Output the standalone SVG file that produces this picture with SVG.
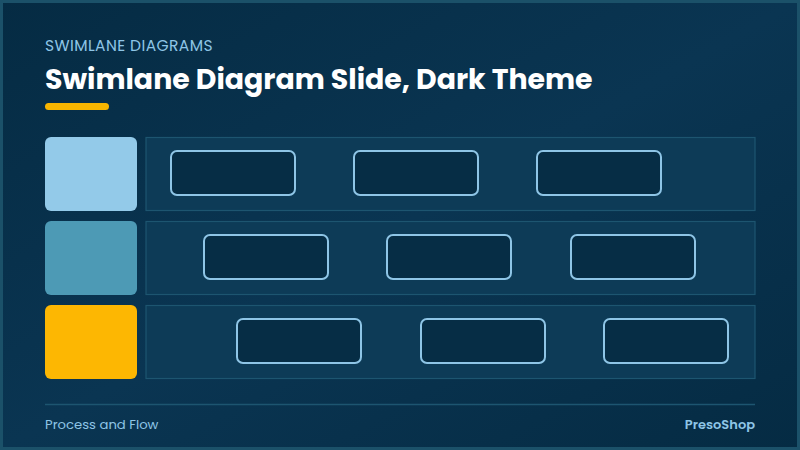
<svg xmlns="http://www.w3.org/2000/svg" width="800" height="450" viewBox="0 0 800 450">
  <defs>
    <linearGradient id="bg" x1="0" y1="0" x2="1" y2="1">
      <stop offset="0" stop-color="#052b43"/>
      <stop offset="0.5" stop-color="#0a3552"/>
      <stop offset="1" stop-color="#052b43"/>
    </linearGradient>
    <style>
      .eyebrow{font-family:"Poppins","Inter","Liberation Sans",sans-serif;font-size:15.5px;letter-spacing:0.4px;fill:#8ec5e6;}
      .title{font-family:"Poppins","Inter","Liberation Sans",sans-serif;font-size:28.4px;font-weight:700;fill:#ffffff;}
      .foot{font-family:"Poppins","Inter","Liberation Sans",sans-serif;font-size:13.2px;fill:#8ec5e6;}
      .brand{font-family:"Poppins","Inter","Liberation Sans",sans-serif;font-size:13px;font-weight:600;fill:#8ec5e6;}
      .lane{fill:#0d3b57;stroke:#1d5570;stroke-width:1.2;}
      .step{fill:#062d45;stroke:#8ec5e6;stroke-width:2;}
    </style>
  </defs>
  <rect x="0" y="0" width="800" height="450" fill="url(#bg)"/>
  <rect x="1.5" y="1.5" width="797" height="447" fill="none" stroke="#1b5169" stroke-width="3"/>

  <g id="header">
    <text class="eyebrow" x="45" y="51">SWIMLANE DIAGRAMS</text>
    <text class="title" x="45" y="89">Swimlane Diagram Slide, Dark Theme</text>
    <rect x="45" y="103" width="64" height="7" rx="3.5" fill="#f7b500"/>
  </g>

  <g id="lane1">
    <rect x="45" y="137" width="92" height="74" rx="6" fill="#93cae9"/>
    <rect class="lane" x="146" y="137.5" width="609" height="73"/>
  </g>
  <g id="lane2">
    <rect x="45" y="221" width="92" height="74" rx="6" fill="#4d9ab5"/>
    <rect class="lane" x="146" y="221.5" width="609" height="73"/>
  </g>
  <g id="lane3">
    <rect x="45" y="305" width="92" height="74" rx="6" fill="#fdb702"/>
    <rect class="lane" x="146" y="305.5" width="609" height="73"/>
  </g>

  <g id="step1-1"><rect class="step" x="171" y="151" width="124" height="44" rx="6"/></g>
  <g id="step1-2"><rect class="step" x="354" y="151" width="124" height="44" rx="6"/></g>
  <g id="step1-3"><rect class="step" x="537" y="151" width="124" height="44" rx="6"/></g>

  <g id="step2-1"><rect class="step" x="204" y="235" width="124" height="44" rx="6"/></g>
  <g id="step2-2"><rect class="step" x="387" y="235" width="124" height="44" rx="6"/></g>
  <g id="step2-3"><rect class="step" x="571" y="235" width="124" height="44" rx="6"/></g>

  <g id="step3-1"><rect class="step" x="237" y="319" width="124" height="44" rx="6"/></g>
  <g id="step3-2"><rect class="step" x="421" y="319" width="124" height="44" rx="6"/></g>
  <g id="step3-3"><rect class="step" x="604" y="319" width="124" height="44" rx="6"/></g>

  <g id="connectors"></g>

  <g id="footer">
    <line x1="45" y1="404.5" x2="755" y2="404.5" stroke="#1d5570" stroke-width="1.5"/>
    <text class="foot" x="45" y="429">Process and Flow</text>
    <text class="brand" x="755" y="429" text-anchor="end">PresoShop</text>
  </g>
</svg>
